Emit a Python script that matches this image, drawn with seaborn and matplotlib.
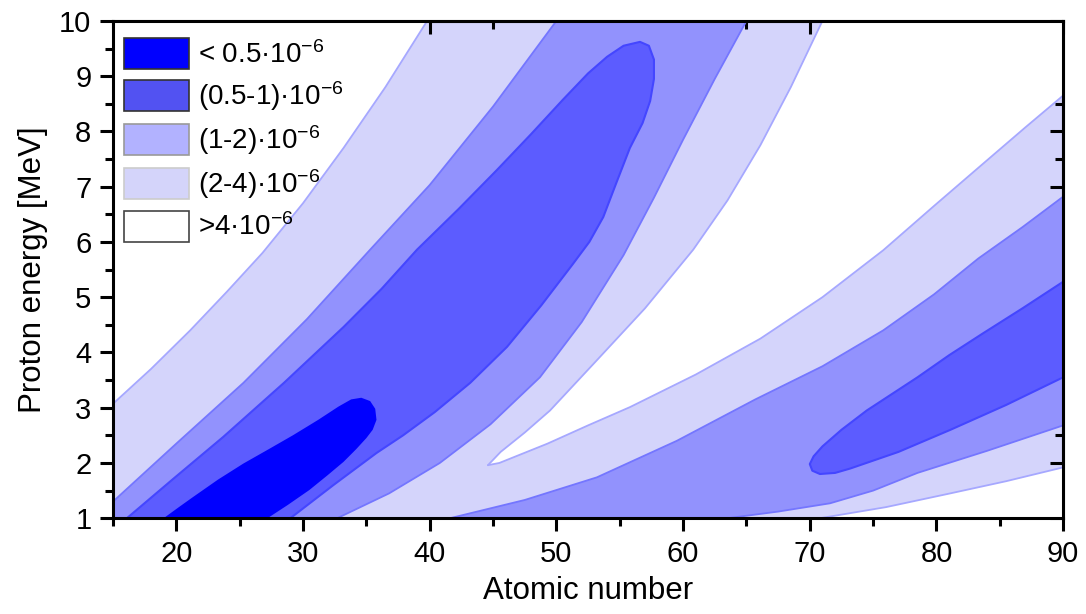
import numpy as np
import matplotlib
matplotlib.use("Agg")
import matplotlib.pyplot as plt
import matplotlib.ticker as mticker
from matplotlib.patches import Patch
import seaborn as sns

# contour boundaries (atomic number Z, proton energy E in MeV)

# white / (2-4) boundary, upper left
b4_left_z = [15.0, 18.0, 21.1, 24.0, 26.8, 30.0, 33.2, 36.5, 39.8]
b4_left_e = [3.07, 3.7, 4.4, 5.1, 5.8, 6.7, 7.7, 8.8, 10.0]

# white wedge in the middle: upper edge (tip -> top) and lower edge (tip -> right)
b4_wedge_top_z = [44.6, 45.6, 47.5, 49.5, 53.2, 57.0, 60.8, 63.5, 66.1, 68.5, 71.0]
b4_wedge_top_e = [1.96, 2.2, 2.55, 2.95, 3.86, 4.8, 5.86, 6.75, 7.75, 8.8, 10.0]
b4_wedge_bot_z = [44.6, 45.5, 49.3, 52.5, 55.8, 61.0, 66.1, 71.0, 75.8, 79.8, 83.7, 87.0, 90.0]
b4_wedge_bot_e = [1.96, 2.0, 2.35, 2.68, 3.01, 3.6, 4.25, 5.0, 5.85, 6.65, 7.42, 8.07, 8.65]

# white corner, bottom right
b4_corner_z = [70.8, 76.0, 81.1, 85.5, 90.0]
b4_corner_e = [1.0, 1.2, 1.45, 1.67, 1.92]

# (1-2) / (2-4) boundaries
b2_left_z = [15.0, 20.0, 25.3, 30.3, 35.3, 40.0, 45.0, 50.0]
b2_left_e = [1.3, 2.35, 3.45, 4.6, 5.86, 7.03, 8.45, 10.0]
b2_mid_z = [32.7, 36.8, 40.8, 44.8, 48.7, 52.0, 55.3, 57.7, 60.0, 62.5, 65.0]
b2_mid_e = [1.0, 1.45, 2.0, 2.7, 3.55, 4.55, 5.76, 6.8, 7.85, 8.95, 10.0]
b2_right_top_z = [41.6, 47.5, 53.2, 59.5, 65.7, 71.0, 75.8, 79.8, 83.3, 86.8, 90.0]
b2_right_top_e = [1.0, 1.33, 1.74, 2.4, 3.15, 3.75, 4.4, 5.05, 5.7, 6.27, 6.82]
b2_right_bot_z = [63.5, 67.5, 71.6, 75.0, 78.5, 84.0, 90.0]
b2_right_bot_e = [1.0, 1.12, 1.27, 1.5, 1.82, 2.22, 2.68]

# (0.5-1) / (1-2) closed contours
b1_left_z = [16.1, 19.8, 23.7, 28.5, 33.2, 36.2, 39.0, 42.3, 45.3, 48.0, 50.5, 52.5,
             54.0, 55.3, 56.6, 57.3, 57.7, 57.7, 57.4, 56.8, 55.8, 54.7, 53.7, 52.6,
             51.3, 48.8, 46.1, 43.2, 40.4, 37.9, 35.8, 32.4, 29.0]
b1_left_e = [1.0, 1.72, 2.47, 3.45, 4.46, 5.15, 5.86, 6.6, 7.3, 7.95, 8.57, 9.05,
             9.35, 9.55, 9.62, 9.55, 9.3, 8.95, 8.55, 8.15, 7.7, 7.05, 6.45, 6.0,
             5.6, 4.85, 4.1, 3.45, 2.92, 2.5, 2.18, 1.6, 1.0]
b1_right_z = [90.0, 86.8, 83.7, 81.0, 78.5, 76.5, 74.5, 72.5, 71.0, 70.3, 70.0, 70.2,
              70.8, 72.0, 73.2, 77.0, 81.1, 85.5, 90.0]
b1_right_e = [5.28, 4.8, 4.35, 3.95, 3.55, 3.25, 2.95, 2.6, 2.3, 2.12, 1.98, 1.86,
              1.8, 1.82, 1.9, 2.2, 2.6, 3.05, 3.55]

# < 0.5 region
b05_z = [19.0, 20.2, 21.3, 23.3, 25.3, 27.3, 29.2, 31.2, 32.8, 33.8, 34.6, 35.3,
         35.7, 35.8, 35.5, 35.0, 34.2, 33.2, 31.9, 30.5, 28.8, 27.2]
b05_e = [1.0, 1.2, 1.38, 1.7, 1.99, 2.25, 2.5, 2.78, 3.02, 3.15, 3.18, 3.12,
         2.98, 2.78, 2.6, 2.45, 2.25, 2.02, 1.77, 1.51, 1.24, 1.0]

levels = ["< 0.5·$\\mathregular{10^{-6}}$", "(0.5-1)·$\\mathregular{10^{-6}}$",
          "(1-2)·$\\mathregular{10^{-6}}$", "(2-4)·$\\mathregular{10^{-6}}$",
          ">4·$\\mathregular{10^{-6}}$"]

c05 = "#0000ff"
c1 = "#5c5cff"
c2 = "#9292fd"
c4 = "#d4d4fb"

sns.set_style("ticks")
plt.rcParams["font.family"] = ["Liberation Sans", "DejaVu Sans"]
plt.rcParams["mathtext.fontset"] = "custom"
plt.rcParams["mathtext.rm"] = "Liberation Sans"
for key in ["text.color", "axes.labelcolor", "xtick.color", "ytick.color"]:
    plt.rcParams[key] = "black"

fig, ax = plt.subplots(figsize=(10.86, 6.14), dpi=100)
fig.subplots_adjust(left=0.104, right=0.979, top=0.966, bottom=0.156)

ax.set_facecolor(c4)

# white areas
ax.fill(b4_left_z + [15], b4_left_e + [10], color="white", lw=0)
ax.fill(b4_wedge_top_z + [90] + b4_wedge_bot_z[::-1], b4_wedge_top_e + [10] + b4_wedge_bot_e[::-1],
        color="white", lw=0)
ax.fill(b4_corner_z + [90], b4_corner_e + [1], color="white", lw=0)

# (1-2)
ax.fill([15] + b2_left_z + b2_mid_z[::-1], [1] + b2_left_e + b2_mid_e[::-1], color=c2, lw=0)
ax.fill(b2_right_top_z + b2_right_bot_z[::-1], b2_right_top_e + b2_right_bot_e[::-1], color=c2, lw=0)

# (0.5-1)
ax.fill(b1_left_z, b1_left_e, color=c1, lw=0)
ax.fill(b1_right_z, b1_right_e, color=c1, lw=0)

# < 0.5
ax.fill(b05_z, b05_e, color=c05, lw=0)

# contour lines
for z, e in [(b4_left_z, b4_left_e), (b4_wedge_top_z, b4_wedge_top_e),
             (b4_wedge_bot_z, b4_wedge_bot_e), (b4_corner_z, b4_corner_e)]:
    sns.lineplot(x=z, y=e, sort=False, estimator=None, color="#a6a8ff", lw=1.3, ax=ax)
for z, e in [(b2_left_z, b2_left_e), (b2_mid_z, b2_mid_e),
             (b2_right_top_z, b2_right_top_e), (b2_right_bot_z, b2_right_bot_e)]:
    sns.lineplot(x=z, y=e, sort=False, estimator=None, color="#7476ff", lw=1.3, ax=ax)
for z, e in [(b1_left_z, b1_left_e), (b1_right_z, b1_right_e)]:
    sns.lineplot(x=z, y=e, sort=False, estimator=None, color="#4446ff", lw=1.5, ax=ax)

ax.set_xlim(15, 90)
ax.set_ylim(1, 10)

ax.xaxis.set_major_locator(mticker.MultipleLocator(10))
ax.xaxis.set_minor_locator(mticker.MultipleLocator(5))
ax.yaxis.set_major_locator(mticker.MultipleLocator(1))
ax.yaxis.set_minor_locator(mticker.MultipleLocator(0.5))
ax.tick_params(which="major", direction="out", length=9.5, width=2.2, labelsize=21, pad=6)
ax.tick_params(which="minor", direction="out", length=6, width=2.2)

# top and right ticks point inwards
sec_x = ax.secondary_xaxis("top")
sec_y = ax.secondary_yaxis("right")
for sec in (sec_x, sec_y):
    sec.tick_params(which="major", direction="in", length=9.5, width=2.2)
    sec.tick_params(which="minor", direction="in", length=6, width=2.2)
sec_x.xaxis.set_major_locator(mticker.MultipleLocator(10))
sec_x.xaxis.set_minor_locator(mticker.MultipleLocator(5))
sec_y.yaxis.set_major_locator(mticker.MultipleLocator(1))
sec_y.yaxis.set_minor_locator(mticker.MultipleLocator(0.5))
sec_x.set_xticklabels([])
sec_y.set_yticklabels([])
sec_x.spines["top"].set_linewidth(2.2)
sec_y.spines["right"].set_linewidth(2.2)

for s in ax.spines.values():
    s.set_linewidth(2.2)
    s.set_color("black")

ax.set_xlabel("Atomic number", fontsize=22.5, labelpad=6)
ax.set_ylabel("Proton energy [MeV]", fontsize=22.5, labelpad=8)

handles = [
    Patch(facecolor="#0000ff", edgecolor="#333333", lw=1.2),
    Patch(facecolor="#5252f2", edgecolor="#333333", lw=1.2),
    Patch(facecolor="#b2b2ff", edgecolor="#999999", lw=1.2),
    Patch(facecolor="#d4d4fa", edgecolor="#cccccc", lw=1.2),
    Patch(facecolor="white", edgecolor="#444444", lw=1.2),
]
ax.legend(handles, levels, loc="upper left", frameon=False, fontsize=20,
          handlelength=2.35, handleheight=1.36, handletextpad=0.3,
          labelspacing=0.36, borderpad=0, borderaxespad=0,
          bbox_to_anchor=(0.0116, 0.966))

fig.savefig("out.png", dpi=100)
